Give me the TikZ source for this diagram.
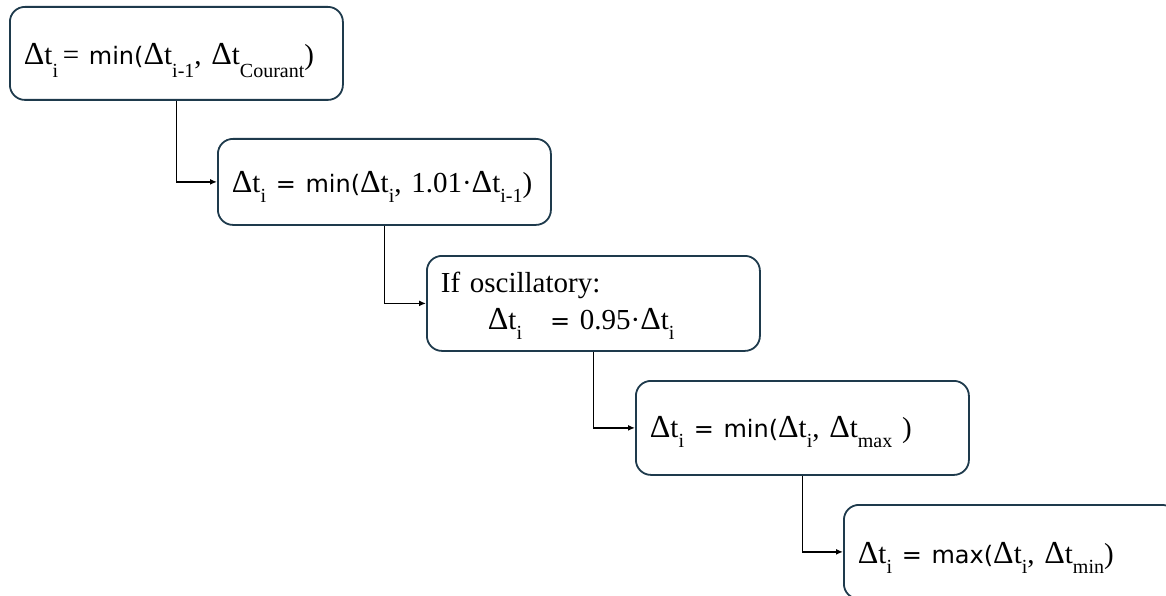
\documentclass[tikz,border=0pt]{standalone}
\usepackage{fontspec}
\setmainfont{Liberation Serif}
\newfontfamily\sansf{DejaVu Sans}
\usetikzlibrary{arrows.meta}
\newcommand\dl{{\fontsize{32}{32}\selectfont Δ}}
\newcommand\lowsub[2][10pt]{\raisebox{-#1}{\fontsize{20}{20}\selectfont #2}}
\newcommand\sn[1]{{\sansf\fontsize{24}{24}\selectfont #1}}
\definecolor{boxline}{HTML}{1E3A4C}
\tikzset{
  stepbox/.style={draw=boxline, line width=1.8pt, rounded corners=15pt,
    minimum width=333pt, text width=305pt, inner xsep=14pt, align=left,
    anchor=north west, font=\fontsize{29}{37}\selectfont},
  oneline/.style={text height=#1, text depth=0pt},
  flow/.style={draw=black, line width=1.6pt, -{Latex[length=7pt,width=6pt]}}
}
\begin{document}
\begin{tikzpicture}[x=1pt,y=-1pt]
\useasboundingbox (0,0) rectangle (1166,596);
\clip (0,0) rectangle (1166,596);
\node[stepbox, oneline=23pt, minimum height=93pt] (b1) at (9,6)
  {\mbox{\dl t\lowsub[13pt]{i}\,= \sn{min(}\dl t\lowsub[13pt]{i-1}, \dl t\lowsub[13pt]{Courant})}};
\node[stepbox, oneline=22pt, minimum height=86pt] (b2) at (217,138)
  {\mbox{\dl t\lowsub{i} \sn{= min(}\dl t\lowsub{i}, 1.01·\dl t\lowsub{i-1})}};
\node[stepbox, text height=26pt, minimum height=95pt] (b3) at (426,255)
  {If oscillatory:\\\hspace*{47pt}\dl t\lowsub{i}\hspace*{28pt}\sn{=} 0.95·\dl t\lowsub{i}};
\node[stepbox, oneline=20pt, minimum height=94pt] (b4) at (635,380)
  {\mbox{\dl t\lowsub{i} \sn{= min(}\dl t\lowsub{i}, \dl t\lowsub{max} )}};
\node[stepbox, oneline=24pt, minimum height=94pt] (b5) at (843,504)
  {\mbox{\dl t\lowsub{i} \sn{= max(}\dl t\lowsub{i}, \dl t\lowsub{min})}};
\draw[flow] (b1.south) |- (b2.west);
\draw[flow] (b2.south) |- (b3.west);
\draw[flow] (b3.south) |- (b4.west);
\draw[flow] (b4.south) |- (b5.west);
\end{tikzpicture}
\end{document}
